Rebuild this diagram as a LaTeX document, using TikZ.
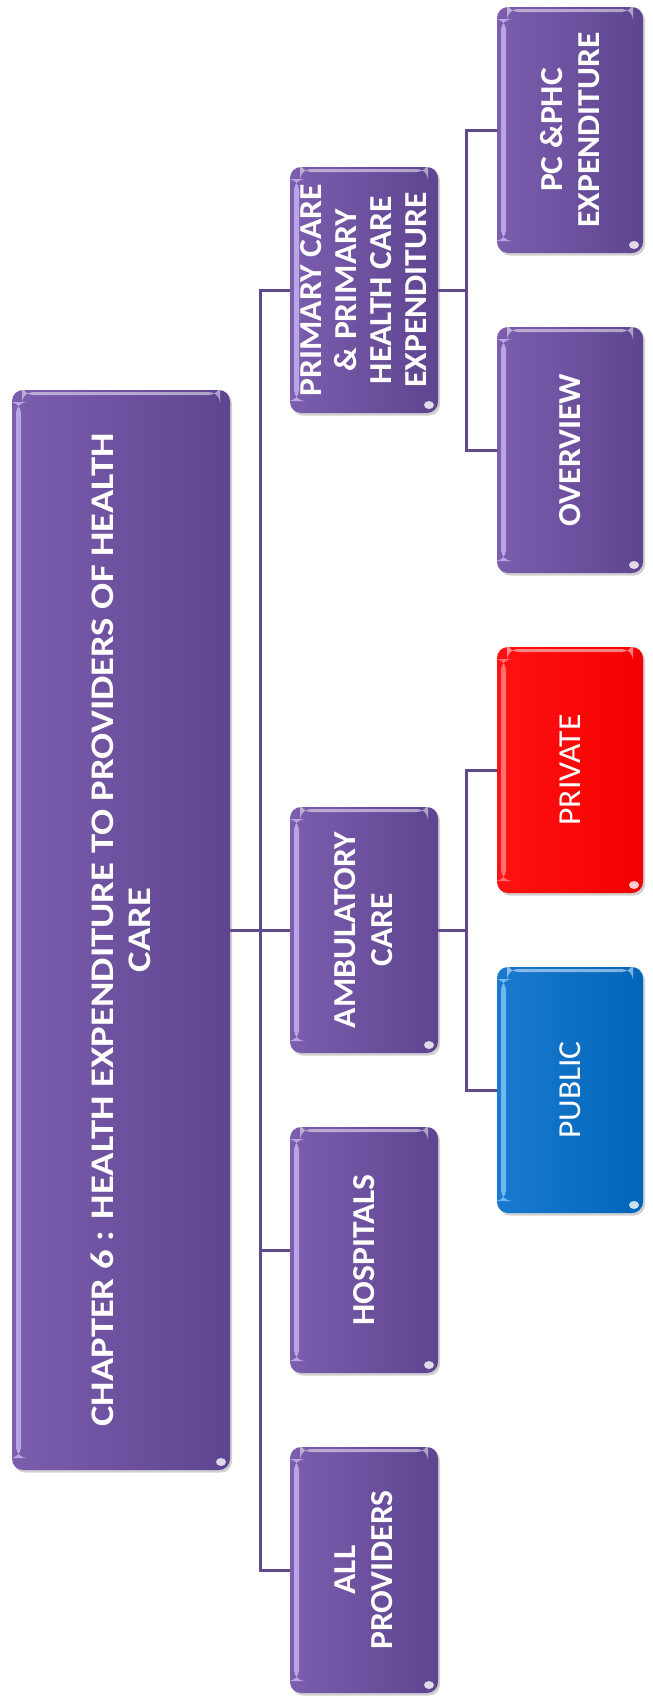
\documentclass[tikz,border=0pt]{standalone}
\usepackage{fontspec}
\setmainfont{Carlito}
\newfontfamily\boxfont{Carlito}[FakeStretch=1.05]
\newfontfamily\titlefont{Carlito}[FakeStretch=1.17]
\usetikzlibrary{shadows,calc,backgrounds}
\definecolor{purL}{HTML}{7C5DAE}
\definecolor{purR}{HTML}{5E4590}
\definecolor{purHi}{HTML}{C4B2F0}
\definecolor{redL}{HTML}{FF1212}
\definecolor{redR}{HTML}{F40000}
\definecolor{redHi}{HTML}{FF8080}
\definecolor{bluL}{HTML}{1A7AD0}
\definecolor{bluR}{HTML}{0066BA}
\definecolor{bluHi}{HTML}{7FC4F5}
\definecolor{lineC}{HTML}{5F4B8B}
\tikzset{
  base/.style={rounded corners=11pt, inner sep=0pt,
    drop shadow={shadow xshift=2pt, shadow yshift=-2.5pt, opacity=0.3, fill=black!60}},
  gloss/.style={path picture={
    \fill[#1, opacity=0.85] ([xshift=4pt,yshift=-12pt]path picture bounding box.north west)
        rectangle ([xshift=9pt,yshift=12pt]path picture bounding box.south west);
    \fill[white, opacity=0.5] ([xshift=10pt,yshift=-2pt]path picture bounding box.north west)
        rectangle ([xshift=-10pt,yshift=-5pt]path picture bounding box.north east);
    \fill[white, opacity=0.8] ([xshift=-9pt,yshift=8pt]path picture bounding box.south east)
        ellipse (5pt and 4pt);
  }},
  purbox/.style={base, left color=purL, right color=purR, gloss=purHi},
  redbox/.style={base, left color=redL, right color=redR, gloss=redHi},
  blubox/.style={base, left color=bluL, right color=bluR, gloss=bluHi},
  lvlone/.style={minimum width=148pt, minimum height=246pt},
  lvltwo/.style={minimum width=146pt, minimum height=246pt},
  txt/.style={rotate=90, text=white, align=center, inner sep=0pt,
    font=\boxfont\fontsize{32}{37}\selectfont\bfseries},
  txtreg/.style={rotate=90, text=white, align=center, inner sep=0pt,
    font=\boxfont\fontsize{32}{37}\selectfont},
  conn/.style={draw=lineC, line width=3pt},
}
\begin{document}
\begin{tikzpicture}[x=1pt, y=-1pt]
\useasboundingbox (0,0) rectangle (653,1697);
% boxes
\node[purbox, minimum width=218pt, minimum height=1080pt] (main) at (121,930) {};
\node[purbox, lvlone] (prim) at (364,290) {};
\node[purbox, lvlone] (amb) at (364,930) {};
\node[purbox, lvlone] (hosp) at (364,1250) {};
\node[purbox, lvlone] (allp) at (364,1570) {};
\node[purbox, lvltwo] (pcphc) at (570,130) {};
\node[purbox, lvltwo] (over) at (570,450) {};
\node[redbox, lvltwo] (priv) at (570,770) {};
\node[blubox, lvltwo] (pub) at (570,1090) {};
% texts
\node[txt, font=\titlefont\fontsize{33}{37}\selectfont\bfseries] (mainT) at (main.center)
  {CHAPTER 6 : HEALTH EXPENDITURE TO PROVIDERS OF HEALTH\\CARE};
\node[txt, font=\boxfont\fontsize{32}{35}\selectfont\bfseries] (primT) at (prim.center)
  {PRIMARY CARE\\\& PRIMARY\\HEALTH CARE\\EXPENDITURE};
\node[txt] (ambT) at (amb.center) {AMBULATORY\\CARE};
\node[txt] (hospT) at (hosp.center) {HOSPITALS};
\node[txt] (allpT) at (allp.center) {ALL\\PROVIDERS};
\node[txt] (pcphcT) at (pcphc.center) {PC \&PHC\\EXPENDITURE};
\node[txt] (overT) at (over.center) {OVERVIEW};
\node[txtreg] (privT) at (priv.center) {PRIVATE};
\node[txtreg] (pubT) at (pub.center) {PUBLIC};
% connectors
\coordinate (busA) at (260,0);
\coordinate (busB) at (466,0);
\begin{scope}[on background layer]
\fill[white] (0,0) rectangle (653,1697);
\foreach \c in {prim,amb,hosp,allp}
  \draw[conn] (main.east) -- (main.east -| busA) |- (\c.west);
\foreach \c in {pcphc,over}
  \draw[conn] (prim.east) -- (prim.east -| busB) |- (\c.west);
\foreach \c in {priv,pub}
  \draw[conn] (amb.east) -- (amb.east -| busB) |- (\c.west);
\end{scope}
\end{tikzpicture}
\end{document}
